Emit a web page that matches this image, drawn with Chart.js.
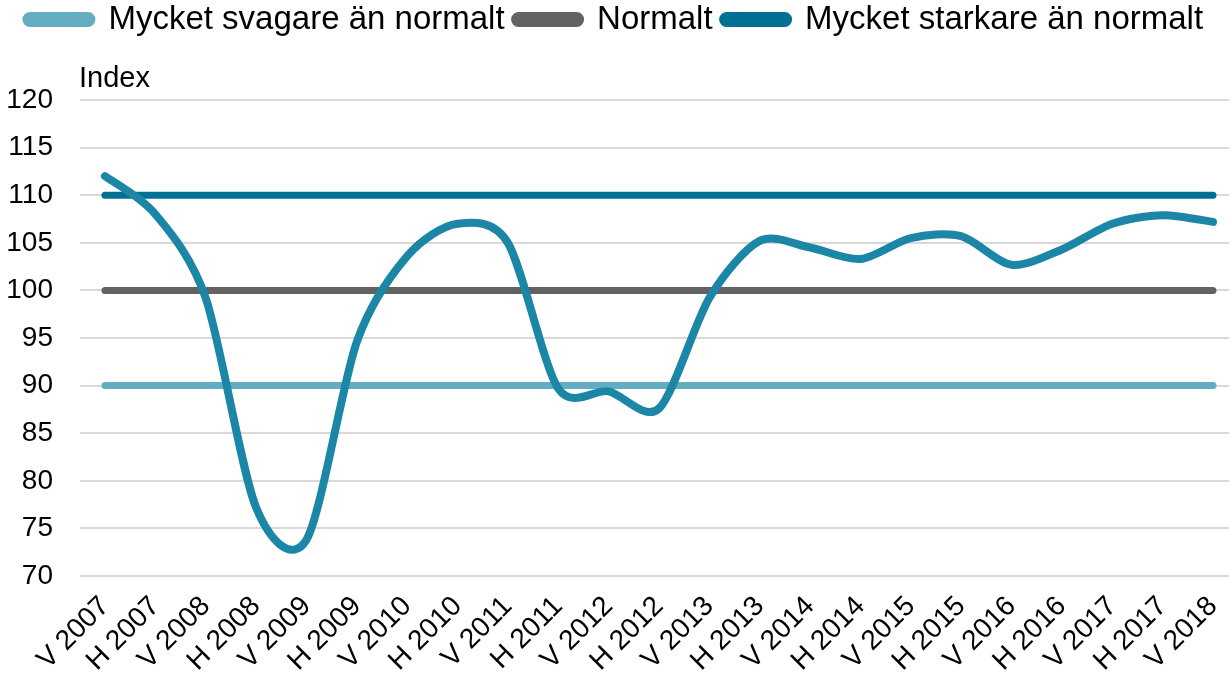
<!DOCTYPE html>
<html>
<head>
<meta charset="utf-8">
<script src="https://cdn.jsdelivr.net/npm/chart.js@4/dist/chart.umd.min.js"></script>
<style>
  html, body { margin: 0; padding: 0; background: #fff; }
  #wrap { width: 1229px; height: 680px; }
</style>
</head>
<body>
<div id="wrap"><canvas id="c" width="1229" height="680"></canvas></div>
<script>
const categories = ["V 2007","H 2007","V 2008","H 2008","V 2009","H 2009","V 2010","H 2010","V 2011","H 2011","V 2012","H 2012","V 2013","H 2013","V 2014","H 2014","V 2015","H 2015","V 2016","H 2016","V 2017","H 2017","V 2018"];
const indexValues = [112.0,108.0,99.2,77.2,73.8,94.6,103.6,107.0,105.0,89.7,89.4,87.6,99.2,105.2,104.5,103.3,105.5,105.7,102.7,104.3,107.0,107.9,107.2];
const muchWeaker = [90,90,90,90,90,90,90,90,90,90,90,90,90,90,90,90,90,90,90,90,90,90,90];
const normal = [100,100,100,100,100,100,100,100,100,100,100,100,100,100,100,100,100,100,100,100,100,100,100];
const muchStronger = [110,110,110,110,110,110,110,110,110,110,110,110,110,110,110,110,110,110,110,110,110,110,110];
const yTicks = [70,75,80,85,90,95,100,105,110,115,120];
const seriesNames = ["Index", "Mycket svagare än normalt", "Normalt", "Mycket starkare än normalt"];

const toPts = arr => arr.map((v, i) => ({x: i, y: v}));

Chart.defaults.font.family = "'Liberation Sans', Arial, sans-serif";
Chart.defaults.color = '#000';

// "Index" unit label above the value axis
const indexLabel = {
  id: 'indexLabel',
  afterDraw(chart) {
    const ctx = chart.ctx;
    const a = chart.chartArea;
    ctx.save();
    ctx.font = "29px 'Liberation Sans', Arial, sans-serif";
    ctx.fillStyle = '#000';
    ctx.textAlign = 'left';
    ctx.textBaseline = 'alphabetic';
    ctx.fillText('Index', a.left - 1, a.top - 13);
    ctx.restore();
  }
};

// extra space under the legend (room for the "Index" label), legend nudged up
const legendSpace = {
  id: 'legendSpace',
  afterInit(chart) {
    const lg = chart.legend;
    if (!lg) return;
    const orig = lg.fit;
    lg.fit = function () { orig.apply(this, arguments); this.height += 47; };
  },
  afterLayout(chart) {
    const lg = chart.legend;
    if (lg) { lg.top -= 7; }
  }
};

// Excel-like smoothing (uniform Catmull-Rom style) for the index curve
const excelSmooth = {
  id: 'excelSmooth',
  afterDatasetsUpdate(chart) {
    const meta = chart.getDatasetMeta(0);
    const pts = meta.data;
    const n = pts.length;
    const f = 1 / 7;
    for (let i = 0; i < n; i++) {
      const p = pts[i];
      const prev = pts[Math.max(0, i - 1)];
      const next = pts[Math.min(n - 1, i + 1)];
      const dx = (next.x - prev.x) * f;
      const dy = (next.y - prev.y) * f;
      p.cp1x = p.x - dx; p.cp1y = p.y - dy;
      p.cp2x = p.x + dx; p.cp2y = p.y + dy;
    }
    if (meta.dataset) meta.dataset._pointsUpdated = true;
  }
};

const common = {pointRadius: 0, pointHoverRadius: 0, borderCapStyle: 'round', borderJoinStyle: 'round', fill: false};

new Chart(document.getElementById('c'), {
  type: 'line',
  data: {
    datasets: [
      Object.assign({label: seriesNames[0], data: toPts(indexValues), borderColor: '#1b86a6', backgroundColor: '#1b86a6', borderWidth: 8, tension: 0.3}, common),
      Object.assign({label: seriesNames[1], data: toPts(muchWeaker), borderColor: '#63adc3', backgroundColor: '#63adc3', borderWidth: 7, tension: 0}, common),
      Object.assign({label: seriesNames[2], data: toPts(normal), borderColor: '#626262', backgroundColor: '#626262', borderWidth: 7, tension: 0}, common),
      Object.assign({label: seriesNames[3], data: toPts(muchStronger), borderColor: '#007194', backgroundColor: '#007194', borderWidth: 7, tension: 0}, common)
    ]
  },
  options: {
    responsive: false,
    animation: false,
    layout: {padding: 0},
    plugins: {
      tooltip: {enabled: false},
      legend: {
        position: 'top',
        labels: {
          filter: item => item.datasetIndex !== 0,
          boxWidth: 66,
          boxHeight: 8,
          useBorderRadius: true,
          borderRadius: 4,
          padding: 10,
          font: {size: 33},
          color: '#000'
        }
      }
    },
    scales: {
      x: {
        type: 'linear',
        min: -0.496,
        max: 22.318,
        afterBuildTicks: s => { s.ticks = categories.map((_, i) => ({value: i})); },
        afterFit: s => { s.height = 104; s.paddingLeft = 0; s.paddingRight = 0; },
        grid: {display: false, drawTicks: false},
        border: {display: false},
        ticks: {
          autoSkip: false,
          minRotation: 45,
          maxRotation: 45,
          padding: 14,
          font: {size: 28},
          color: '#000',
          callback: v => categories[v]
        }
      },
      y: {
        min: 70,
        max: 120,
        afterBuildTicks: s => { s.ticks = yTicks.map(v => ({value: v})); },
        afterFit: s => { s.width = 80; },
        grid: {color: '#d9d9d9', lineWidth: 2, drawTicks: false},
        border: {display: false},
        ticks: {padding: 27, font: {size: 28}, color: '#000'}
      }
    }
  },
  plugins: [legendSpace, excelSmooth, indexLabel]
});
</script>
</body>
</html>
